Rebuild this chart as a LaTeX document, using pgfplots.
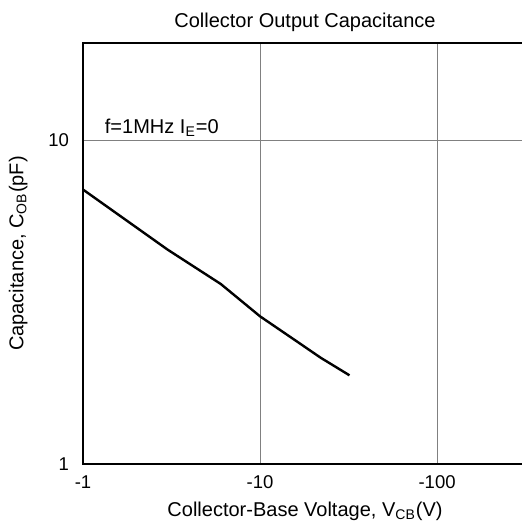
\documentclass[border=0pt]{standalone}
\usepackage{fontspec}
\setmainfont{Liberation Sans}
\usepackage{pgfplots}
\pgfplotsset{compat=1.18}
\begin{document}
\begin{tikzpicture}
\begin{axis}[
    scale only axis,
    width=222pt, height=210.5pt,
    xmode=log, ymode=log,
    xmin=1, xmax=322, ymin=1, ymax=20,
    xtick={1,10,100}, xticklabels={-1,-10,-100},
    ytick={1,10}, yticklabels={1,10},
    grid=major,
    major grid style={draw=black!50, line width=0.5pt},
    axis line style={line width=0.6pt},
    major tick length=0pt, minor tick length=0pt,
    tick label style={font=\fontsize{9.25}{11}\selectfont},
    xticklabel style={yshift=-2.5pt},
    yticklabel style={xshift=-3.5pt},
    label style={font=\fontsize{10}{12}\selectfont},
    title style={font=\fontsize{10}{12}\selectfont, at={(0.5,1.05)}, anchor=center, yshift=-6pt},
    title={Collector Output Capacitance},
    xlabel={Collector-Base Voltage, V\textsubscript{CB}(V)},
    ylabel={Capacitance, C\textsubscript{OB}(pF)},
    xlabel style={at={(0.5,-0.112)}, anchor=center},
    ylabel style={at={(-0.146,0.5)}, anchor=center},
]
\addplot[black, line width=1.2pt] coordinates {
    (1,7.05) (3,4.6) (6,3.6) (10,2.86) (16,2.4) (22,2.13) (32,1.88)
};
\node[anchor=west, fill=white, inner sep=0.5pt, font=\fontsize{10}{12}\selectfont]
    at (axis cs:1.306,10.97) {f=1MHz I\textsubscript{E}=0};
\coordinate (sw) at (rel axis cs:0,0);
\end{axis}
\pgfresetboundingbox
\path ([xshift=-41.5pt,yshift=-30.5pt]sw) rectangle ([xshift=219.5pt,yshift=232pt]sw);
\end{tikzpicture}
\end{document}
